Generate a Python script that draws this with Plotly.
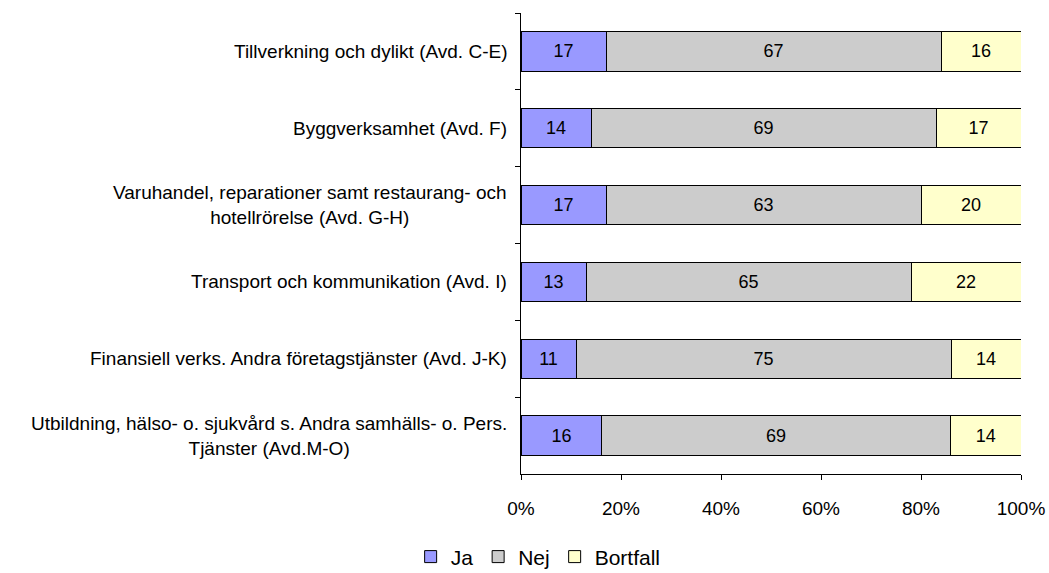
import plotly.graph_objects as go

categories = [
    "Tillverkning och dylikt (Avd. C-E)",
    "Byggverksamhet (Avd. F)",
    "Varuhandel, reparationer samt restaurang- och<br>hotellrörelse (Avd. G-H)",
    "Transport och kommunikation (Avd. I)",
    "Finansiell verks. Andra företagstjänster (Avd. J-K)",
    "Utbildning, hälso- o. sjukvård s. Andra samhälls- o. Pers.<br>Tjänster (Avd.M-O)",
]
ja = [17, 14, 17, 13, 11, 16]
nej = [67, 69, 63, 65, 75, 69]
bortfall = [16, 17, 20, 22, 14, 14]

tick_vals = [0, 20, 40, 60, 80, 100]
tick_text = ["0%", "20%", "40%", "60%", "80%", "100%"]

font_family = "Liberation Sans, Arial, sans-serif"
series = [("Ja", ja, "#9999FF"), ("Nej", nej, "#CCCCCC"), ("Bortfall", bortfall, "#FFFFCC")]

fig = go.Figure()
for name, vals, color in series:
    fig.add_trace(go.Bar(
        y=categories, x=vals, name=name, orientation="h",
        marker=dict(color=color, line=dict(color="#000000", width=1)),
        text=vals, texttemplate="%{text}", textposition="inside",
        insidetextanchor="middle", textangle=0,
        textfont=dict(family=font_family, size=18, color="#000000"),
    ))

# category labels drawn as centred multi-line annotations left of the axis
for cat in categories:
    fig.add_annotation(
        x=0, xref="paper", y=cat, yref="y", text=cat, showarrow=False,
        xanchor="right", xshift=-12, align="center",
        font=dict(family=font_family, size=19, color="#000000"),
    )

fig.update_layout(
    barmode="stack", barnorm="percent", bargap=0.49,
    width=1049, height=573,
    margin=dict(l=521, r=28, t=13, b=99, autoexpand=False),
    paper_bgcolor="white", plot_bgcolor="white",
    font=dict(family=font_family, size=19, color="#000000"),
    legend=dict(
        orientation="h", xref="container", yref="container",
        x=0.513, xanchor="center", y=0.028, yanchor="middle",
        font=dict(size=21, color="#000000"), itemwidth=30,
        traceorder="normal",
    ),
    showlegend=True,
)
fig.update_xaxes(
    range=[0, 100], tickvals=tick_vals, ticktext=tick_text, automargin=False,
    showgrid=False, zeroline=False, showline=True, linecolor="#000000", linewidth=1,
    ticks="outside", ticklen=5, tickcolor="#000000", ticklabelstandoff=12,
    tickfont=dict(size=19, color="#000000"),
)
fig.update_yaxes(
    categoryorder="array", categoryarray=categories, autorange="reversed", automargin=False,
    showticklabels=False, showgrid=False, showline=True, linecolor="#000000", linewidth=1,
    ticks="outside", ticklen=5, tickcolor="#000000", tickson="boundaries",
)

fig.write_html("out.html")
